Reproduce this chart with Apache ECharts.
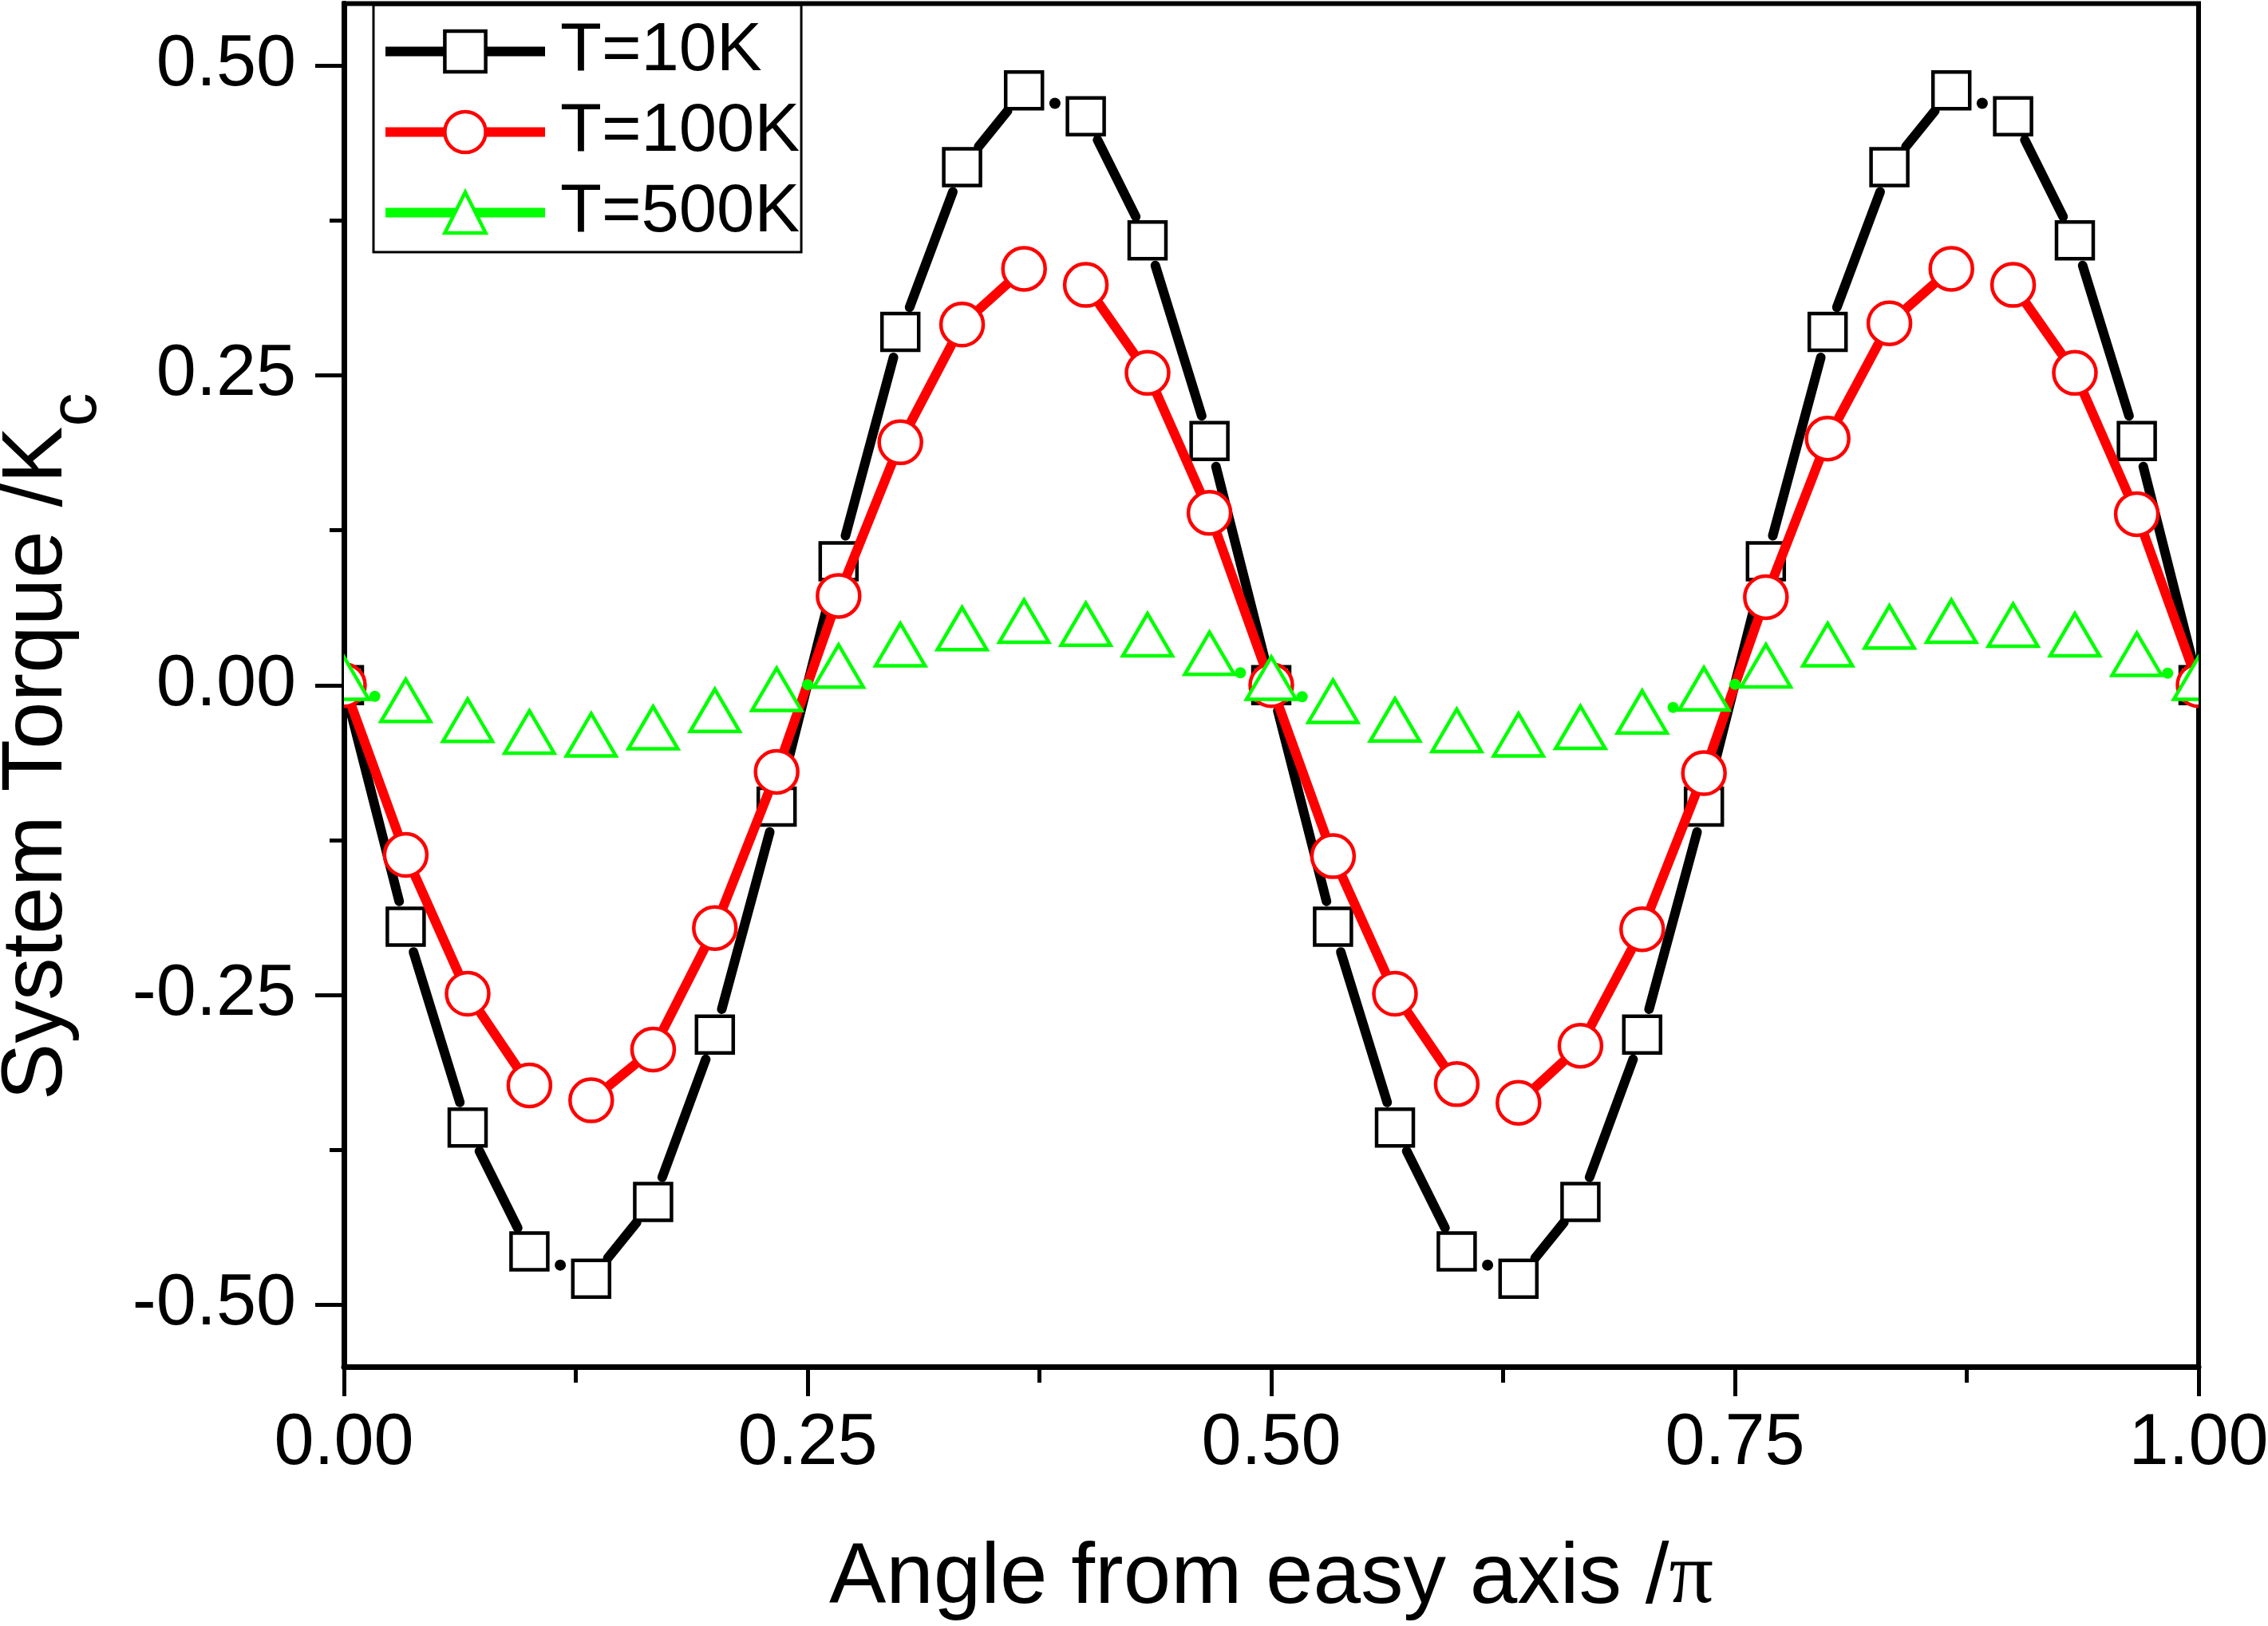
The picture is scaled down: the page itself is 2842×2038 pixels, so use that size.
<!DOCTYPE html>
<html>
<head>
<meta charset="utf-8">
<script src="https://cdn.jsdelivr.net/npm/echarts@6/dist/echarts.min.js"></script>
<style>
html,body{margin:0;padding:0;background:#fff;}
#chart{width:2842px;height:2038px;}
</style>
</head>
<body>
<div id="chart"></div>
<script>
// ---- data ----
const angle = [0, 0.0333, 0.0667, 0.1, 0.1333, 0.1667, 0.2, 0.2333, 0.2667, 0.3, 0.3333,
  0.3667, 0.4, 0.4333, 0.4667, 0.5, 0.5333, 0.5667, 0.6, 0.6333, 0.6667,
  0.7, 0.7333, 0.7667, 0.8, 0.8333, 0.8667, 0.9, 0.9333, 0.9667, 1.0];
const torque10K = [0, -0.195, -0.357, -0.457, -0.479, -0.417, -0.282, -0.098, 0.100, 0.285, 0.418,
  0.480, 0.459, 0.359, 0.197, 0, -0.195, -0.357, -0.457, -0.479, -0.417,
  -0.282, -0.098, 0.100, 0.285, 0.418, 0.480, 0.459, 0.359, 0.197, 0];
const torque100K = [0, -0.137, -0.249, -0.323, -0.335, -0.294, -0.196, -0.070, 0.072, 0.196, 0.291,
  0.336, 0.323, 0.252, 0.139, 0, -0.138, -0.249, -0.322, -0.337, -0.291,
  -0.197, -0.071, 0.071, 0.199, 0.292, 0.336, 0.323, 0.252, 0.138, 0];
const torque500K = [0, -0.018, -0.034, -0.0435, -0.0457, -0.040, -0.026, -0.009, 0.0098, 0.027, 0.040,
  0.046, 0.0435, 0.035, 0.020, 0, -0.0187, -0.0337, -0.0422, -0.0457, -0.0397,
  -0.0273, -0.0086, 0.010, 0.027, 0.0413, 0.046, 0.0428, 0.035, 0.0193, 0];
const seriesNames = ['T=10K', 'T=100K', 'T=500K'];
const yMajorTicks = [-0.5, -0.25, 0, 0.25, 0.5];
const yMinorTicks = [-0.375, -0.125, 0.125, 0.375];
const xTitle = 'Angle from easy axis /';
const yTitle = 'System Torque /K';

// ---- styling ----
const FONT = "'Liberation Sans', Arial, sans-serif";
const styles = [
  {color: '#000000', symbol: 'rect', gap: 33},
  {color: '#FF0000', symbol: 'circle', gap: 29},
  {color: '#00FF00', symbol: 'triangle', gap: 34}
];
const values = [torque10K, torque100K, torque500K];
const LINE_W = 12;
const MARKER_W = 4.5;
const MIN_LEN = 82;   // shorter segments vanish under the markers
const DOT_LEN = 90;   // segments just above MIN_LEN leave only a dot

function segmentData(ys) {
  const out = [];
  for (let i = 0; i < angle.length - 1; i++) out.push([angle[i], ys[i], angle[i + 1], ys[i + 1]]);
  return out;
}

function markerShape(kind, c, color) {
  const style = {fill: '#FFFFFF', stroke: color, lineWidth: MARKER_W};
  if (kind === 'rect') {
    return {type: 'rect', shape: {x: c[0] - 23, y: c[1] - 23, width: 46, height: 46}, style: style};
  }
  if (kind === 'circle') {
    return {type: 'circle', shape: {cx: c[0], cy: c[1], r: 26.5}, style: style};
  }
  const w = 62, h = 53;
  return {type: 'polygon', shape: {points: [[c[0], c[1] - h * 2 / 3], [c[0] + w / 2, c[1] + h / 3], [c[0] - w / 2, c[1] + h / 3]]}, style: style};
}

const series = [];
values.forEach((ys, k) => {
  const st = styles[k];
  // connecting line, broken around each marker
  series.push({
    type: 'custom',
    name: seriesNames[k] + ' line',
    z: 3 * k + 1,
    silent: true,
    clip: true,
    encode: {x: [0, 2], y: [1, 3]},
    data: segmentData(ys),
    renderItem: function (params, api) {
      const p1 = api.coord([api.value(0), api.value(1)]);
      const p2 = api.coord([api.value(2), api.value(3)]);
      const dx = p2[0] - p1[0], dy = p2[1] - p1[1];
      const L = Math.hypot(dx, dy);
      if (L < MIN_LEN) return null;
      if (L < DOT_LEN) {
        return {type: 'circle', shape: {cx: (p1[0] + p2[0]) / 2, cy: (p1[1] + p2[1]) / 2, r: LINE_W / 2 + 1},
          style: {fill: st.color}};
      }
      const ux = dx / L, uy = dy / L, g = st.gap;
      return {
        type: 'line',
        shape: {x1: p1[0] + ux * g, y1: p1[1] + uy * g, x2: p2[0] - ux * g, y2: p2[1] - uy * g},
        style: {stroke: st.color, lineWidth: LINE_W, lineCap: 'round'}
      };
    }
  });
  // markers, clipped to the plot frame
  series.push({
    type: 'custom',
    name: seriesNames[k] + ' markers',
    z: 3 * k + 2,
    silent: true,
    clip: true,
    encode: {x: 0, y: 1},
    data: angle.map((x, i) => [x, ys[i]]),
    renderItem: function (params, api) {
      const c = api.coord([api.value(0), api.value(1)]);
      return markerShape(st.symbol, c, st.color);
    }
  });
  // legend entry (line + symbol icon)
  series.push({
    type: 'line',
    name: seriesNames[k],
    z: 3 * k + 3,
    data: [],
    symbol: st.symbol,
    color: st.color,
    itemStyle: {color: '#FFFFFF', borderColor: st.color, borderWidth: MARKER_W},
    lineStyle: {color: st.color, width: LINE_W}
  });
});

const chart = echarts.init(document.getElementById('chart'), null, {renderer: 'canvas'});
chart.setOption({
  animation: false,
  backgroundColor: '#FFFFFF',
  grid: {left: 431, right: 87, top: 4.5, bottom: 325, outerBoundsMode: 'none', containLabel: false,
    show: true, borderColor: '#000', borderWidth: 6, backgroundColor: 'transparent'},
  legend: {
    data: seriesNames,
    orient: 'vertical',
    left: 468, top: 6,
    padding: [16, 2, 7, 9],
    itemWidth: 200, itemHeight: 64, itemGap: 16,
    borderColor: '#000', borderWidth: 3,
    selectedMode: false,
    lineStyle: {width: LINE_W, opacity: 1},
    itemStyle: {borderWidth: MARKER_W},
    textStyle: {fontSize: 85, fontFamily: FONT, color: '#000', padding: [0, 0, 0, 14]}
  },
  xAxis: {
    type: 'value', min: 0, max: 1, interval: 0.25,
    name: '{a|' + xTitle + '}{p|π}',
    nameLocation: 'middle', nameGap: 211,
    nameTextStyle: {rich: {
      a: {fontSize: 107, fontFamily: FONT, color: '#000'},
      p: {fontSize: 110, fontFamily: "'Liberation Serif', 'Times New Roman', serif", color: '#000'}
    }},
    axisLine: {show: true, onZero: false, lineStyle: {color: '#000', width: 7}},
    axisTick: {show: true, inside: false, length: 37, lineStyle: {color: '#000', width: 5}},
    minorTick: {show: true, splitNumber: 2, length: 20, lineStyle: {color: '#000', width: 5}},
    axisLabel: {fontSize: 90, fontFamily: FONT, color: '#000', margin: 52, formatter: v => v.toFixed(2)},
    splitLine: {show: false}
  },
  yAxis: [{
    type: 'value', min: -0.55, max: 0.55,
    name: '{a|' + yTitle + '}{b|c}',
    nameLocation: 'middle', nameGap: 292,
    nameTextStyle: {
      padding: [0, 154, 0, 0],
      rich: {
        a: {fontSize: 107, lineHeight: 107, fontFamily: FONT, color: '#000', verticalAlign: 'bottom', padding: [0, 0, 38, 0]},
        b: {fontSize: 84, lineHeight: 84, fontFamily: FONT, color: '#000', verticalAlign: 'bottom'}
      }
    },
    axisLine: {show: true, onZero: false, lineStyle: {color: '#000', width: 7}},
    axisTick: {show: true, inside: false, length: 36, customValues: yMajorTicks, lineStyle: {color: '#000', width: 5}},
    axisLabel: {fontSize: 90, fontFamily: FONT, color: '#000', margin: 60, customValues: yMajorTicks, formatter: v => v.toFixed(2)},
    splitLine: {show: false}
  }, {
    type: 'value', min: -0.55, max: 0.55, position: 'left',
    axisLine: {show: false, onZero: false},
    axisTick: {show: true, inside: false, length: 18, customValues: yMinorTicks, lineStyle: {color: '#000', width: 5}},
    axisLabel: {show: false},
    splitLine: {show: false}
  }],
  series: series
});
</script>
</body>
</html>
